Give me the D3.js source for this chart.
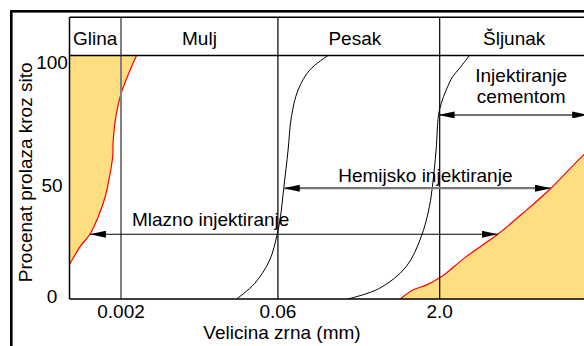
<!DOCTYPE html>
<html><head><meta charset="utf-8">
<script src="https://cdn.jsdelivr.net/npm/d3@7"></script>
<style>
body{margin:0;background:#fff}
svg text{font-family:"Liberation Sans",Arial,sans-serif;font-size:19px;fill:#000}
</style>
</head><body><svg id="c" width="584" height="346"></svg>
<script>
// ---------- data ----------
const soilClasses = ["Glina", "Mulj", "Pesak", "Šljunak"];
const classBounds = [0.00065, 0.002, 0.06, 2.0, 60];
const xTickValues = [0.002, 0.06, 2.0, 60];
const xTickLabels = ["0.002", "0.06", "2.0", "60"];
const yTickValues = [0, 50, 100];
const yTickLabels = ["0", "50", "100"];

// clay boundary (red, filled to the left)
const claySize = [0.0028, 0.00233, 0.00199, 0.0018, 0.00169, 0.00167, 0.00158, 0.00142, 0.00122, 0.00102, 0.000824, 0.000664, 0.00055];
const clayPass = [100, 92, 84, 75.6, 65.3, 58.4, 51.6, 42, 33.8, 26.6, 21.5, 14.7, 10];
// silt / fine sand grading curve
const siltSize = [0.1776, 0.1194, 0.0928, 0.0804, 0.0748, 0.0681, 0.0634, 0.0589, 0.0502, 0.0363, 0.0245];
const siltPass = [100, 94, 85.8, 74.9, 61.2, 45.5, 33.8, 26.3, 16, 6.4, 0];
// sand / fine gravel grading curve
const sandSize = [3.81, 3.07, 2.65, 2.30, 2.07, 1.95, 1.85, 1.72, 1.60, 1.34, 0.968, 0.543, 0.273];
const sandPass = [100, 94.7, 91.3, 85.8, 80.4, 75.6, 61.2, 47.5, 37.9, 25.6, 13.3, 4.4, 0];
// gravel boundary (red, filled below)
const gravelSize = [0.851, 1.117, 1.49, 1.96, 2.30, 3.55, 7.03, 12.1, 22.3, 45, 79];
const gravelPass = [0, 3.7, 5.7, 8.5, 10.6, 17.4, 26.6, 35.2, 45.5, 59.1, 68.6];

// grouting ranges
const groutNames = ["Mlazno injektiranje", "Hemijsko injektiranje", "Injektiranje|cementom"];
const groutFrom = [0.00102, 0.0681, 1.95];
const groutTo = [7.03, 22.3, 50];
const groutLevel = [26.6, 45.5, 75.6];
const groutLabelSize = [0.01397, 1.466, 11.7];

// ---------- layout ----------
const svg = d3.select("#c");
const pLeft = 69.5, pTop = 55.5, pBottom = 299, headTop = 17.3, pRight = 700;
const x = d3.scaleLog().domain([0.002, 2.0]).range([121, 439.7]);
const y = d3.scaleLinear().domain([0, 100]).range([pBottom, pTop]);
const yLabel = d3.scaleLinear().domain([0, 50, 100]).range([296, 185, 62]);

const defs = svg.append("defs");
defs.append("clipPath").attr("id", "plot")
  .append("rect").attr("x", pLeft).attr("y", pTop).attr("width", pRight - pLeft).attr("height", pBottom - pTop);
defs.append("marker").attr("id", "ah").attr("viewBox", "0 -3.5 16 7")
  .attr("refX", 16).attr("refY", 0).attr("markerWidth", 16).attr("markerHeight", 7)
  .attr("markerUnits", "userSpaceOnUse").attr("orient", "auto-start-reverse")
  .append("path").attr("d", "M0,-3.5L16,0L0,3.5Z").attr("fill", "#000");

// outer frame
svg.append("rect").attr("x", 11.3).attr("y", 11.3).attr("width", 800).attr("height", 500)
  .attr("fill", "none").attr("stroke", "#000").attr("stroke-width", 2.6);

const pts = (s, p) => s.map((v, i) => [v, p[i]]);
const g = svg.append("g").attr("clip-path", "url(#plot)");

// fills
const clay = pts(claySize, clayPass);
g.append("path").datum(clay)
  .attr("d", d3.area().curve(d3.curveCatmullRom).y(d => y(d[1])).x0(pLeft - 5).x1(d => x(d[0])))
  .attr("fill", "#FFDE82");
const gravel = pts(gravelSize, gravelPass);
g.append("path").datum(gravel)
  .attr("d", d3.area().curve(d3.curveCatmullRom).x(d => x(d[0])).y0(pBottom).y1(d => y(d[1])))
  .attr("fill", "#FFDE82");

// vertical class lines
svg.append("line").attr("x1", x(0.002)).attr("x2", x(0.002)).attr("y1", headTop).attr("y2", pBottom)
  .attr("stroke", "#808080").attr("stroke-width", 2);
[0.06, 2.0].forEach(v => svg.append("line").attr("x1", x(v)).attr("x2", x(v)).attr("y1", headTop).attr("y2", pBottom)
  .attr("stroke", "#000").attr("stroke-width", 1.2));

// header + frame of plot
svg.append("line").attr("x1", pLeft).attr("x2", pRight).attr("y1", headTop).attr("y2", headTop).attr("stroke", "#000").attr("stroke-width", 1.5);
svg.append("line").attr("x1", pLeft).attr("x2", pRight).attr("y1", pTop).attr("y2", pTop).attr("stroke", "#000").attr("stroke-width", 1.5);
svg.append("line").attr("x1", pLeft).attr("x2", pLeft).attr("y1", headTop).attr("y2", pBottom).attr("stroke", "#000").attr("stroke-width", 1.5);
svg.append("line").attr("x1", pLeft).attr("x2", pRight).attr("y1", pBottom).attr("y2", pBottom).attr("stroke", "#000").attr("stroke-width", 1.5);

soilClasses.forEach((c, i) => {
  const lo = i === 0 ? pLeft : x(classBounds[i]);
  const hi = x(classBounds[i + 1]);
  svg.append("text").attr("x", (lo + hi) / 2 - (i >= 2 ? 4 : 0)).attr("y", 44.5).attr("text-anchor", "middle").text(c);
});

// curves
const lineGen = d3.line().curve(d3.curveCatmullRom).x(d => x(d[0])).y(d => y(d[1]));
g.append("path").datum(clay).attr("d", lineGen).attr("fill", "none").attr("stroke", "#FF0000").attr("stroke-width", 1.2);
g.append("path").datum(gravel).attr("d", lineGen).attr("fill", "none").attr("stroke", "#FF0000").attr("stroke-width", 1.2);
g.append("path").datum(pts(siltSize, siltPass)).attr("d", lineGen).attr("fill", "none").attr("stroke", "#000").attr("stroke-width", 1);
g.append("path").datum(pts(sandSize, sandPass)).attr("d", lineGen).attr("fill", "none").attr("stroke", "#000").attr("stroke-width", 1);

// grouting arrows
const arrowColor = ["#000", "#777", "#444"];
const arrowWidth = [1.2, 2.2, 1.5];
groutNames.forEach((n, i) => {
  const yy = y(groutLevel[i]);
  svg.append("line").attr("x1", x(groutFrom[i])).attr("x2", x(groutTo[i])).attr("y1", yy).attr("y2", yy)
    .attr("stroke", arrowColor[i]).attr("stroke-width", arrowWidth[i])
    .attr("marker-start", "url(#ah)").attr("marker-end", "url(#ah)");
  const parts = n.split("|");
  if (parts.length === 1) {
    svg.append("text").attr("x", x(groutLabelSize[i])).attr("y", yy - (i === 0 ? 8.3 : 6.3))
      .attr("text-anchor", "middle").text(n);
  } else {
    parts.forEach((p, j) => svg.append("text").attr("x", x(groutLabelSize[i])).attr("y", yy - 33.3 + j * 21.6)
      .attr("text-anchor", "middle").text(p));
  }
});

// ticks
xTickValues.forEach((v, i) => svg.append("text").attr("x", x(v)).attr("y", 318).attr("text-anchor", "middle").text(xTickLabels[i]));
yTickValues.forEach((v, i) => svg.append("text").attr("x", 52).attr("y", yLabel(v)).attr("dy", "0.35em").attr("text-anchor", "middle").text(yTickLabels[i]));

// axis titles
svg.append("text").attr("x", 282).attr("y", 338.5).attr("text-anchor", "middle").text("Velicina zrna (mm)");
svg.append("text").attr("transform", "translate(31.5,172.3) rotate(-90)").attr("text-anchor", "middle").text("Procenat prolaza kroz sito");
</script></body></html>
